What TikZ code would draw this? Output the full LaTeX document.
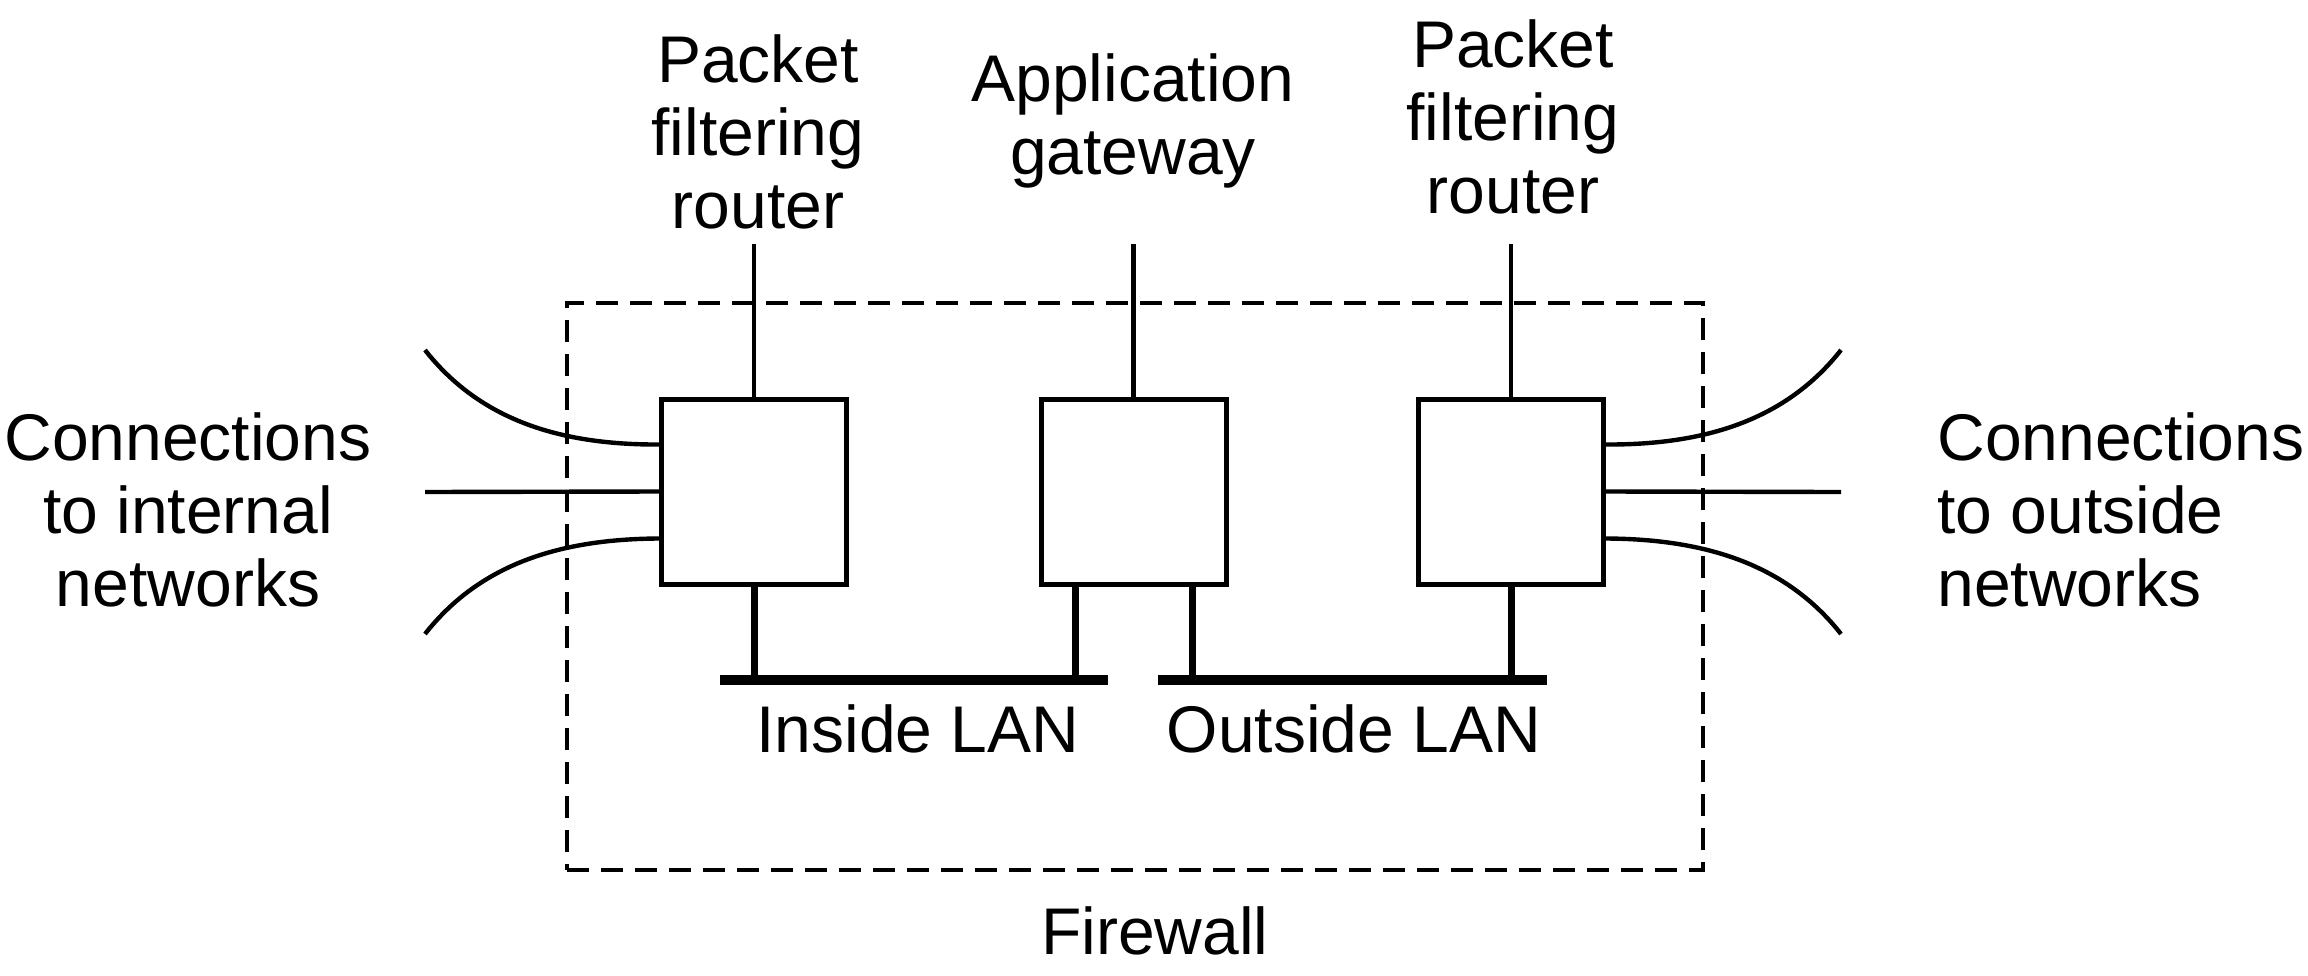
\documentclass[tikz,border=0pt]{standalone}
\usepackage{fontspec}
\setmainfont{Liberation Sans}
\begin{document}
\begin{tikzpicture}[x=0.5pt,y=-0.5pt,
  box/.style={draw, line width=2.5pt, minimum width=92.5pt, minimum height=92.5pt, inner sep=0pt},
  thin/.style={line width=2.2pt},
  stub/.style={line width=3.5pt},
  lan/.style={line width=4.7pt},
  lbl/.style={font=\fontsize{33}{36.5}\selectfont, inner sep=0pt},
  fw/.style={draw, dash pattern=on 11pt off 6pt, line width=2.4pt, minimum width=568pt, minimum height=283.5pt, inner sep=0pt}]
\useasboundingbox (0,0) rectangle (2308,975);
% firewall boundary
\node[fw] (fwbox) at (1135,586.5) {};
% boxes
\node[box] (r1) at (754,491.5) {};
\node[box] (ag) at (1133.5,491.5) {};
\node[box] (r2) at (1511,491.5) {};
% top labels
\node[lbl, align=center, anchor=base] (lp1) at (758,228) {Packet\\filtering\\router};
\node[lbl, align=center, anchor=base] (lag) at (1133,174) {Application\\gateway};
\node[lbl, align=center, anchor=base] (lp2) at (1513,213) {Packet\\filtering\\router};
\coordinate (t1) at (754,244);
\coordinate (t2) at (1133.5,244);
\coordinate (t3) at (1511,244);
\draw[thin] (t1) -- (r1.north);
\draw[thin] (t2) -- (ag.north);
\draw[thin] (t3) -- (r2.north);
% LANs
\coordinate (inL) at (720,680);
\coordinate (inR) at (1108,680);
\coordinate (outL) at (1158,680);
\coordinate (outR) at (1547,680);
\draw[lan] (inL) -- (inR);
\draw[lan] (outL) -- (outR);
\coordinate (s1) at (754,680);
\coordinate (s2) at (1075,680);
\coordinate (s3) at (1192,680);
\coordinate (s4) at (1511,680);
\draw[stub] (r1.south) -- (s1);
\draw[stub] (s2 |- ag.south) -- (s2);
\draw[stub] (s3 |- ag.south) -- (s3);
\draw[stub] (r2.south) -- (s4);
\node[lbl, anchor=base] (inlan) at (918,752) {Inside LAN};
\node[lbl, anchor=base] (outlan) at (1354,752) {Outside LAN};
% left connections
\coordinate (la) at (425,350);
\coordinate (lb) at (425,492);
\coordinate (lc) at (425,634);
\draw[thin] (la) .. controls (480,420) and (560,445) .. ([yshift=23.5pt]r1.west);
\draw[thin] (lb) -- (r1.west);
\draw[thin] (lc) .. controls (480,564) and (560,539) .. ([yshift=-23.5pt]r1.west);
% right connections
\coordinate (ra) at (1841,350);
\coordinate (rb) at (1841,492);
\coordinate (rc) at (1841,634);
\draw[thin] ([yshift=23.5pt]r2.east) .. controls (1705,445) and (1786,420) .. (ra);
\draw[thin] (r2.east) -- (rb);
\draw[thin] ([yshift=-23.5pt]r2.east) .. controls (1705,539) and (1786,564) .. (rc);
% side labels
\node[lbl, align=center, anchor=base] (lint) at (188,606) {Connections\\to internal\\networks};
\node[lbl, align=left, anchor=base west] (lout) at (1937,606) {Connections\\to outside\\networks};
% firewall label
\node[lbl, anchor=base] (fwl) at (1155,954) {Firewall};
\end{tikzpicture}
\end{document}
